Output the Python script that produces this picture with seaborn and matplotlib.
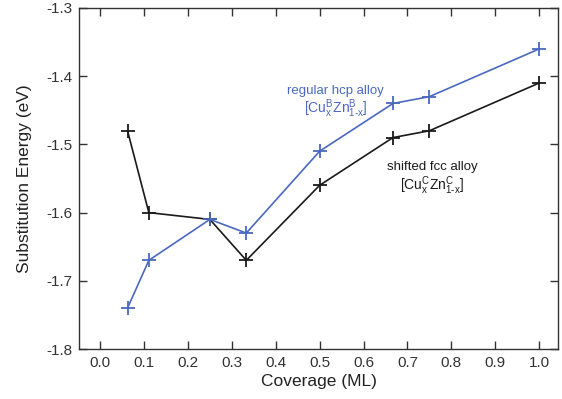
import matplotlib
matplotlib.use("Agg")
import matplotlib.pyplot as plt
import seaborn as sns
import pandas as pd

# Coverage (ML) and substitution energies (eV) for the two alloy configurations
coverage = [0.0625, 0.111, 0.25, 0.333, 0.5, 0.667, 0.75, 1.0]
energy_hcp = [-1.74, -1.67, -1.61, -1.63, -1.51, -1.44, -1.43, -1.36]
energy_fcc = [-1.48, -1.60, -1.61, -1.67, -1.56, -1.49, -1.48, -1.41]

x_ticks = [0.0, 0.1, 0.2, 0.3, 0.4, 0.5, 0.6, 0.7, 0.8, 0.9, 1.0]
y_ticks = [-1.8, -1.7, -1.6, -1.5, -1.4, -1.3]

sns.set_theme(style="ticks")
plt.rcParams["font.family"] = ["Liberation Sans", "DejaVu Sans"]
plt.rcParams["mathtext.fontset"] = "custom"
plt.rcParams["mathtext.rm"] = "Liberation Sans"
plt.rcParams["mathtext.it"] = "Liberation Sans"

df = pd.DataFrame({"coverage": coverage, "hcp": energy_hcp, "fcc": energy_fcc})

fig = plt.figure(figsize=(5.62, 3.99), dpi=100)
ax = fig.add_axes([0.1406, 0.1253, 0.8524, 0.8547])

blue = "#4a68c0"
line_kw = dict(marker="+", markersize=10, markeredgewidth=1.3, linewidth=1.2)
sns.lineplot(data=df, x="coverage", y="fcc", ax=ax, color="#1a1a1a",
             markeredgecolor="#1a1a1a", **line_kw)
sns.lineplot(data=df, x="coverage", y="hcp", ax=ax, color=blue,
             markeredgecolor=blue, **line_kw)

ax.set_xlim(-0.048, 1.043)
ax.set_ylim(-1.8, -1.3)
ax.set_xticks(x_ticks)
ax.set_xticklabels([f"{t:.1f}" for t in x_ticks])
ax.set_yticks(y_ticks)
ax.set_yticklabels([f"{t:.1f}" for t in y_ticks])
ax.tick_params(direction="in", length=6, width=1, top=True, right=True,
               labelsize=11, colors="#333333", labelcolor="#333333", pad=5)
for s in ax.spines.values():
    s.set_color("#333333")
    s.set_linewidth(1.0)

ax.set_xlabel("Coverage (ML)", fontsize=12.5, color="#222222", labelpad=3)
ax.set_ylabel("Substitution Energy (eV)", fontsize=12.5, color="#222222", labelpad=10)

ax.text(0.536, -1.421, "regular hcp alloy", color=blue, fontsize=9.5,
        ha="center", va="center")
ax.text(0.536, -1.447, r"[Cu$_{x}^{B}$Zn$_{1\text{-}x}^{B}$]", color=blue,
        fontsize=10, ha="center", va="center")
ax.text(0.757, -1.533, "shifted fcc alloy", color="#1a1a1a", fontsize=9.5,
        ha="center", va="center")
ax.text(0.757, -1.560, r"[Cu$_{x}^{C}$Zn$_{1\text{-}x}^{C}$]", color="#1a1a1a",
        fontsize=10, ha="center", va="center")

fig.savefig("out.png", dpi=100)
